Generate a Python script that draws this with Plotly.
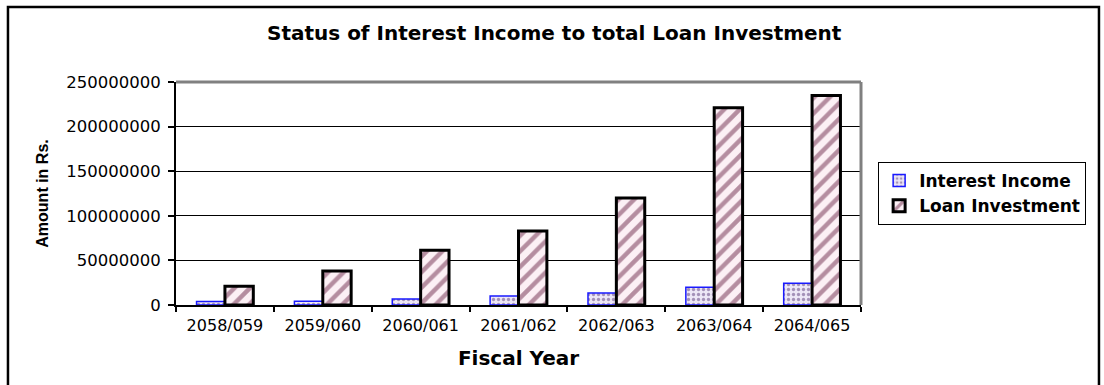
import plotly.graph_objects as go

# Fiscal years and amounts (Rs.)
fiscal_years = ["2058/059", "2059/060", "2060/061", "2061/062", "2062/063", "2063/064", "2064/065"]
interest_income = [3800000, 4300000, 6700000, 10000000, 13500000, 20000000, 24500000]
loan_investment = [21000000, 38000000, 61500000, 83000000, 120000000, 221000000, 235000000]
y_ticks = [0, 50000000, 100000000, 150000000, 200000000, 250000000]

FONT = "DejaVu Sans, sans-serif"
NARROW = "Liberation Sans Narrow, Liberation Sans, sans-serif"

fig = go.Figure()
fig.add_trace(go.Bar(
    name="Interest Income",
    x=fiscal_years,
    y=interest_income,
    marker=dict(
        color="#ece6f6",
        line=dict(color="#1a1aff", width=1.5),
        pattern=dict(shape=".", fgcolor="#5a3a7a", bgcolor="#ece6f6", size=5, solidity=0.35),
    ),
))
fig.add_trace(go.Bar(
    name="Loan Investment",
    x=fiscal_years,
    y=loan_investment,
    marker=dict(
        color="#fbe6f0",
        line=dict(color="black", width=3),
        pattern=dict(shape="/", fgcolor="#6e2a4c", bgcolor="#fcf0f5", size=11, solidity=0.4),
    ),
))

fig.update_layout(
    width=1104,
    height=385,
    margin=dict(l=176, r=243, t=82, b=80),
    paper_bgcolor="white",
    plot_bgcolor="white",
    barmode="group",
    bargap=0.42,
    bargroupgap=0,
    font=dict(family=FONT, color="black"),
    title=dict(
        text="<b>Status of Interest Income to total Loan Investment</b>",
        x=0.502, xanchor="center", y=0.915, yanchor="middle",
        font=dict(size=20, family=FONT, color="black"),
    ),
    legend=dict(
        x=1.025, xanchor="left", y=0.50, yanchor="middle",
        bordercolor="black", borderwidth=1,
        font=dict(size=17, family=FONT, color="black", weight="bold"),
        tracegroupgap=2, itemwidth=30,
    ),
    xaxis=dict(
        title=dict(text="<b>Fiscal Year</b>", font=dict(size=20, family=FONT), standoff=17),
        tickfont=dict(size=16, family=FONT),
        showline=True, linecolor="black", linewidth=2,
        ticks="outside", tickson="boundaries", ticklen=5, tickcolor="black", tickwidth=1.5,
        ticklabelstandoff=5,
        showgrid=False,
    ),
    yaxis=dict(
        title=dict(text="<b>Amount in Rs.</b>", font=dict(size=16, family=NARROW), standoff=14),
        tickfont=dict(size=16.5, family=FONT),
        range=[0, 250000000], tickvals=y_ticks, tickformat="d",
        showline=True, linecolor="black", linewidth=2,
        ticks="outside", ticklen=6, tickcolor="black", tickwidth=1.5,
        ticklabelstandoff=4,
        showgrid=True, gridcolor="black", gridwidth=1,
        zeroline=False,
    ),
)

# Gray plot-area border on top and right
fig.add_shape(type="line", xref="paper", yref="paper", x0=0, x1=1, y0=1, y1=1,
              line=dict(color="#808080", width=3))
fig.add_shape(type="line", xref="paper", yref="paper", x0=1, x1=1, y0=0, y1=1,
              line=dict(color="#808080", width=3))
# Outer chart frame
fig.add_shape(type="rect", xref="paper", yref="paper",
              x0=-0.2453, x1=1.3474, y0=-0.40, y1=1.3363,
              line=dict(color="black", width=2.5), layer="below")

fig.write_html("out.html")
